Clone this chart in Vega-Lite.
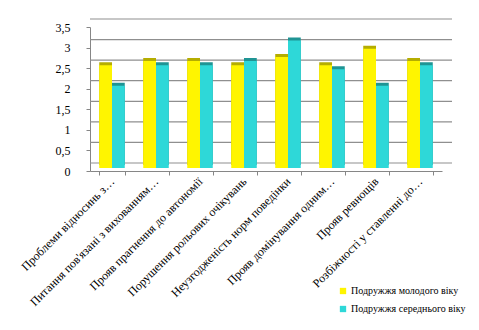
{
  "$schema": "https://vega.github.io/schema/vega-lite/v6.json",
  "width": 352,
  "height": 144,
  "autosize": {"type": "none"},
  "padding": {"left": 90, "top": 27, "right": 37, "bottom": 159},
  "background": "white",
  "config": {
    "view": {"stroke": null},
    "font": "Liberation Serif",
    "locale": {"number": {"decimal": ",", "thousands": " ", "grouping": [3], "currency": ["", ""]}},
    "axisY": {"tickCount": 8, "labelOverlap": false}
  },
  "datasets": {
    "bars": [
      {"category": "Проблеми відносинь з…", "series": "Подружжя молодого віку", "value": 2.5},
      {"category": "Проблеми відносинь з…", "series": "Подружжя середнього віку", "value": 2.0},
      {"category": "Питання пов'язані з вихованням…", "series": "Подружжя молодого віку", "value": 2.6},
      {"category": "Питання пов'язані з вихованням…", "series": "Подружжя середнього віку", "value": 2.5},
      {"category": "Прояв прагнення до автономії", "series": "Подружжя молодого віку", "value": 2.6},
      {"category": "Прояв прагнення до автономії", "series": "Подружжя середнього віку", "value": 2.5},
      {"category": "Порушення рольових очікувань", "series": "Подружжя молодого віку", "value": 2.5},
      {"category": "Порушення рольових очікувань", "series": "Подружжя середнього віку", "value": 2.6},
      {"category": "Неузгодженість норм поведінки", "series": "Подружжя молодого віку", "value": 2.7},
      {"category": "Неузгодженість норм поведінки", "series": "Подружжя середнього віку", "value": 3.1},
      {"category": "Прояв домінування одним…", "series": "Подружжя молодого віку", "value": 2.5},
      {"category": "Прояв домінування одним…", "series": "Подружжя середнього віку", "value": 2.4},
      {"category": "Прояв ревнощів", "series": "Подружжя молодого віку", "value": 2.9},
      {"category": "Прояв ревнощів", "series": "Подружжя середнього віку", "value": 2.0},
      {"category": "Розбіжності у ставленні до…", "series": "Подружжя молодого віку", "value": 2.6},
      {"category": "Розбіжності у ставленні до…", "series": "Подружжя середнього віку", "value": 2.5}
    ],
    "grid": [
      {"value": 0}, {"value": 0.5}, {"value": 1}, {"value": 1.5},
      {"value": 2}, {"value": 2.5}, {"value": 3}, {"value": 3.5}
    ]
  },
  "layer": [
    {
      "data": {"name": "grid"},
      "mark": {"type": "rule", "color": "#8f8f8f", "strokeWidth": 1.2, "xOffset": 10, "x2Offset": 10, "yOffset": -8},
      "encoding": {
        "y": {
          "field": "value",
          "type": "quantitative",
          "scale": {"domain": [0, 3.5], "nice": false},
          "axis": {
            "title": null,
            "tickCount": 8,
            "values": [0, 0.5, 1, 1.5, 2, 2.5, 3, 3.5],
            "format": "~f",
            "labelOverlap": false,
            "grid": false,
            "domainColor": "#868686",
            "tickColor": "#868686",
            "tickSize": 4,
            "labelPadding": 16,
            "labelFont": "Liberation Serif",
            "labelFontSize": 12,
            "labelColor": "#000000"
          }
        }
      }
    },
    {
      "data": {"name": "bars"},
      "mark": {"type": "bar", "xOffset": 5, "x2Offset": 5, "yOffset": -6, "y2Offset": -6},
      "encoding": {
        "x": {
          "field": "category",
          "type": "nominal",
          "sort": null,
          "scale": {"paddingInner": 0.42, "paddingOuter": 0.21},
          "axis": {
            "title": null,
            "labelAngle": -45,
            "labelAlign": "right",
            "labelBaseline": "middle",
            "labelPadding": 4,
            "labelLimit": 400,
            "labelFont": "Liberation Serif",
            "labelFontSize": 12,
            "labelColor": "#000000",
            "tickBand": "extent",
            "tickSize": 4,
            "domainColor": "#868686",
            "tickColor": "#868686"
          }
        },
        "xOffset": {"field": "series", "type": "nominal", "sort": ["Подружжя молодого віку", "Подружжя середнього віку"]},
        "y": {
          "field": "value",
          "type": "quantitative",
          "axis": {
            "title": null,
            "tickCount": 8,
            "values": [0, 0.5, 1, 1.5, 2, 2.5, 3, 3.5],
            "format": "~f",
            "labelOverlap": false,
            "grid": false,
            "domainColor": "#868686",
            "tickColor": "#868686",
            "tickSize": 4,
            "labelPadding": 16,
            "labelFont": "Liberation Serif",
            "labelFontSize": 12,
            "labelColor": "#000000"
          }
        },
        "y2": {"datum": 0},
        "color": {
          "condition": {"test": "datum.series == 'Подружжя молодого віку'", "value": "#b5ad00"},
          "value": "#1f9494"
        }
      }
    },
    {
      "data": {"name": "bars"},
      "mark": {"type": "bar", "xOffset": 2, "x2Offset": 2, "yOffset": -3, "y2Offset": -3},
      "encoding": {
        "x": {"field": "category", "type": "nominal", "sort": null},
        "xOffset": {"field": "series", "type": "nominal", "sort": ["Подружжя молодого віку", "Подружжя середнього віку"]},
        "y": {
          "field": "value",
          "type": "quantitative",
          "axis": {
            "title": null,
            "tickCount": 8,
            "values": [0, 0.5, 1, 1.5, 2, 2.5, 3, 3.5],
            "format": "~f",
            "labelOverlap": false,
            "grid": false,
            "domainColor": "#868686",
            "tickColor": "#868686",
            "tickSize": 4,
            "labelPadding": 16,
            "labelFont": "Liberation Serif",
            "labelFontSize": 12,
            "labelColor": "#000000"
          }
        },
        "y2": {"datum": 0},
        "color": {
          "field": "series",
          "type": "nominal",
          "sort": ["Подружжя молодого віку", "Подружжя середнього віку"],
          "scale": {"domain": ["Подружжя молодого віку", "Подружжя середнього віку"], "range": ["#fff500", "#2ed8d8"]},
          "legend": {
            "title": null,
            "orient": "none",
            "legendX": 248,
            "legendY": 259,
            "symbolType": "square",
            "symbolSize": 40,
            "symbolStrokeWidth": 0,
            "labelFont": "Liberation Serif",
            "labelFontSize": 10,
            "labelColor": "#000000",
            "rowPadding": 8,
            "labelOffset": 3
          }
        }
      }
    }
  ]
}
